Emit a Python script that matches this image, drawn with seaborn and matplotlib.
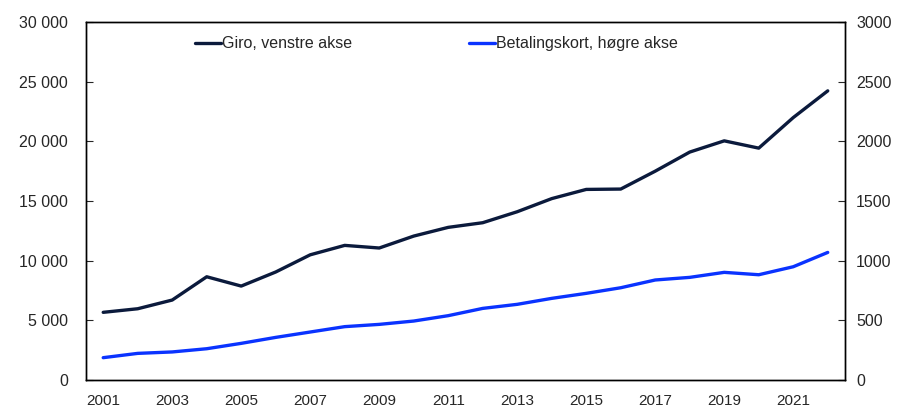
"""
plot.py — Giro vs. betalingskort, two y-axes, 2001–2022.
"""

import numpy as np
import pandas as pd
import matplotlib
matplotlib.use("Agg")
import matplotlib.pyplot as plt
import seaborn as sns
from matplotlib.ticker import FuncFormatter, FixedLocator

years = list(range(2001, 2023))
giro = [5670, 5970, 6700, 8650, 7870, 9050, 10490, 11280, 11060, 12060, 12790,
        13180, 14100, 15200, 15970, 16000, 17500, 19100, 20040, 19430, 21990, 24230]
kort = [187, 223, 235, 262, 307, 357, 402, 447, 466, 494, 539,
        600, 634, 684, 726, 773, 838, 860, 902, 882, 949, 1069]

giro_label = "Giro, venstre akse"
kort_label = "Betalingskort, høgre akse"
year_labels = [str(y) for y in years[::2]]

DARK = "#0b1a3c"
BLUE = "#0a33ff"

sns.set_style("white")
plt.rcParams["font.family"] = ["Liberation Sans", "DejaVu Sans"]
plt.rcParams["font.size"] = 11

df = pd.DataFrame({"year": years, "giro": giro, "kort": kort})

fig = plt.figure(figsize=(9.02, 4.12), dpi=100)
ax = fig.add_axes([0.0953, 0.0777, 0.8415, 0.8689])
ax2 = ax.twinx()

sns.lineplot(data=df, x="year", y="giro", ax=ax, color=DARK, lw=2.4,
             label=giro_label, legend=False)
sns.lineplot(data=df, x="year", y="kort", ax=ax2, color=BLUE, lw=2.4,
             label=kort_label, legend=False)

ax.set_xlim(years[0] - 0.5, years[-1] + 0.5)
ax.set_ylim(0, 30000)
ax2.set_ylim(0, 3000)
ax.set_yticks(np.arange(0, 30001, 5000))
ax2.set_yticks(np.arange(0, 3001, 500))
ax.yaxis.set_major_formatter(FuncFormatter(lambda v, _: f"{int(v):,}".replace(",", " ")))

ax.set_xticks(years[::2])
ax.set_xticklabels(year_labels)
ax.xaxis.set_minor_locator(FixedLocator([y + 0.5 for y in years[:-1]]))
ax.tick_params(axis="x", which="major", length=0, pad=10, labelsize=11)
ax.tick_params(axis="x", which="minor", direction="in", length=5, width=0.8, color="black")
ax.tick_params(axis="y", direction="in", length=5, width=0.8, pad=13, labelsize=11.5, left=True)
ax2.tick_params(axis="y", direction="in", length=5, width=0.8, pad=8, labelsize=11.5, right=True)

for a in (ax, ax2):
    a.set_xlabel("")
    a.set_ylabel("")
    for s in a.spines.values():
        s.set_color("black")
        s.set_linewidth(1.0)

h1, l1 = ax.get_legend_handles_labels()
h2, l2 = ax2.get_legend_handles_labels()
ax2.legend(h1 + h2, l1 + l2, ncol=2, frameon=False, loc="upper center",
           bbox_to_anchor=(0.462, 1.0), handlelength=1.6, handletextpad=0.1,
           columnspacing=7.3, fontsize=11.5)

fig.savefig("out.png", dpi=100)
